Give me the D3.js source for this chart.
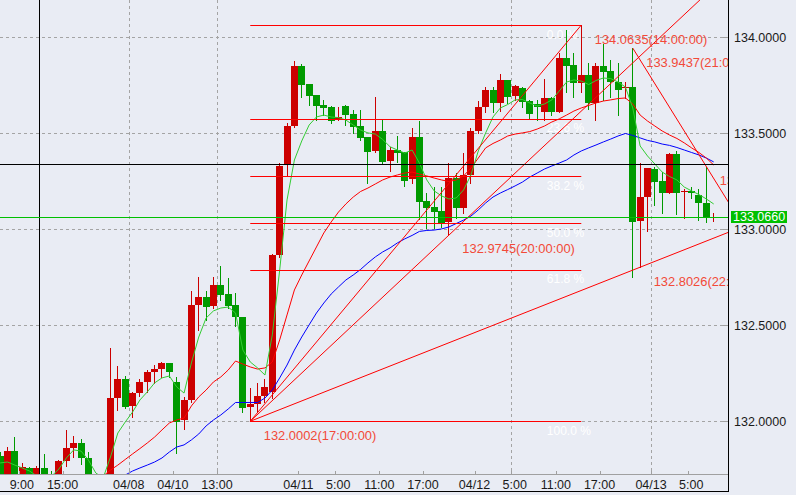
<!DOCTYPE html>
<html>
<head>
<meta charset="utf-8">
<script src="https://d3js.org/d3.v7.min.js"></script>
<style>
  body { margin: 0; background: #e9ecf4; }
  svg { display: block; font-family: "Liberation Sans", Arial, sans-serif; }
</style>
</head>
<body>
<svg id="chart"></svg>
<script>
const width = 796, height = 495;
const plotW = 728, plotH = 474;

// hourly bars, oldest first
const opens = [131.82,131.68,131.845,131.71,131.755,131.71,131.755,131.72,131.69,131.793,
  131.863,131.889,131.81,131.70,131.66,131.68,132.123,132.220,132.081,132.147,
  132.205,132.257,132.272,132.304,132.205,132.006,132.111,132.606,132.649,132.601,
  132.710,132.663,132.606,132.542,132.076,132.09,132.13,132.15,132.866,133.339,
  133.538,133.851,133.757,133.699,133.647,133.635,133.569,133.642,133.601,133.538,
  133.479,133.408,133.512,133.357,133.413,133.403,133.260,133.481,133.147,133.115,
  133.095,133.040,133.267,133.113,133.283,133.514,133.637,133.726,133.656,133.778,
  133.694,133.737,133.668,133.654,133.612,133.682,133.612,133.894,133.856,133.764,
  133.804,133.659,133.851,133.824,133.766,133.734,133.740,133.043,133.170,133.314,
  133.252,133.191,133.392,133.193,133.198,133.179,133.139,133.062];
const highs = [131.84,131.868,131.918,131.784,131.76,131.765,131.83,131.741,131.798,131.955,
  131.924,131.91,131.84,131.72,131.70,132.383,132.288,132.238,132.150,132.219,
  132.267,132.293,132.309,132.306,132.232,132.128,132.679,132.753,132.679,132.752,
  132.811,132.745,132.670,132.542,132.173,132.20,132.22,132.87,133.344,133.552,
  133.878,133.859,133.757,133.699,133.673,133.64,133.639,133.645,133.621,133.621,
  133.48,133.691,133.569,133.430,133.486,133.405,133.529,133.566,133.188,133.222,
  133.222,133.344,133.292,133.396,133.526,133.668,133.743,133.74,133.809,133.78,
  133.752,133.743,133.673,133.673,133.781,133.69,133.917,134.038,133.917,134.0635,
  133.865,133.865,133.965,133.882,133.865,133.769,133.9437,133.344,133.318,133.326,
  133.300,133.396,133.408,133.210,133.222,133.210,133.3265,133.083];
const lows = [131.66,131.65,131.66,131.69,131.70,131.69,131.67,131.64,131.66,131.769,
  131.816,131.775,131.68,131.62,131.63,131.66,132.060,132.068,132.024,132.132,
  132.154,132.198,132.232,132.229,131.834,131.960,132.099,132.476,132.528,132.589,
  132.632,132.589,132.496,132.050,132.0002,132.05,132.10,132.12,132.857,133.278,
  133.531,133.691,133.647,133.569,133.595,133.552,133.569,133.543,133.500,133.465,
  133.243,133.405,133.344,133.305,133.352,133.227,133.243,133.052,133.005,133.008,
  133.014,132.9745,133.057,133.083,133.243,133.502,133.612,133.612,133.618,133.656,
  133.673,133.639,133.578,133.569,133.569,133.595,133.610,133.717,133.691,133.717,
  133.625,133.569,133.673,133.691,133.595,133.682,132.753,132.8026,132.993,133.127,
  133.087,133.19,133.078,133.057,133.161,133.048,133.040,133.043];
const closes = [131.69,131.845,131.70,131.763,131.72,131.755,131.69,131.67,131.793,131.863,
  131.889,131.807,131.70,131.66,131.68,132.121,132.220,132.076,132.147,132.205,
  132.257,132.272,132.304,132.257,131.998,132.111,132.606,132.649,132.597,132.710,
  132.658,132.602,132.542,132.071,132.090,132.13,132.18,132.866,133.330,133.538,
  133.851,133.752,133.696,133.642,133.632,133.566,133.586,133.595,133.534,133.477,
  133.404,133.512,133.352,133.413,133.399,133.253,133.481,133.144,133.113,133.092,
  133.034,133.267,133.109,133.283,133.514,133.637,133.726,133.656,133.778,133.691,
  133.746,133.665,133.601,133.639,133.682,133.612,133.894,133.852,133.760,133.804,
  133.656,133.852,133.821,133.766,133.726,133.741,133.040,133.170,133.318,133.248,
  133.188,133.392,133.188,133.200,133.191,133.135,133.062,133.066];

// moving averages as drawn (green fast, red middle, blue slow)
const maFast = [131.783,131.788,131.772,131.757,131.741,131.715,131.705,131.715,131.752,131.809,
  131.851,131.845,131.798,131.731,131.705,131.814,131.939,131.996,132.048,132.111,
  132.153,132.200,132.226,132.236,132.179,132.147,132.304,132.439,132.538,132.575,
  132.590,132.595,132.564,132.371,132.309,132.278,132.241,132.450,132.788,133.153,
  133.361,133.460,133.543,133.585,133.595,133.585,133.582,133.569,133.543,133.517,
  133.502,133.496,133.468,133.430,133.413,133.397,133.413,133.345,133.257,133.200,
  133.174,133.158,133.163,133.205,133.283,133.408,133.502,133.585,133.632,133.650,
  133.674,133.676,133.658,133.642,133.653,133.674,133.720,133.767,133.778,133.772,
  133.754,133.775,133.788,133.785,133.767,133.741,133.632,133.434,133.382,133.340,
  133.298,133.275,133.257,133.220,133.200,133.181,133.158,133.132];
const maMidStart = 14;
const maMid = [131.715,131.746,131.772,131.801,131.830,131.858,
  131.887,131.918,131.955,131.991,132.007,132.017,132.080,132.127,132.163,132.205,
  132.231,132.267,132.314,132.298,132.283,132.272,132.278,132.309,132.424,132.554,
  132.684,132.762,132.835,132.908,132.981,133.038,133.090,133.132,133.168,133.197,
  133.215,133.236,133.257,133.272,133.283,133.293,133.298,133.288,133.278,133.267,
  133.257,133.249,133.257,133.278,133.319,133.371,133.424,133.447,133.465,133.486,
  133.496,133.502,133.509,133.522,133.538,133.559,133.575,133.595,133.616,133.632,
  133.645,133.658,133.668,133.674,133.681,133.684,133.653,133.595,133.564,133.538,
  133.512,133.491,133.473,133.450,133.424,133.400,133.371,133.335];
const maSlowStart = 17;
const maSlow = [131.720,131.741,131.757,
  131.772,131.788,131.809,131.840,131.866,131.877,131.903,131.934,131.976,132.007,
  132.033,132.064,132.098,132.098,132.098,132.098,132.121,132.163,132.226,132.293,
  132.371,132.439,132.502,132.564,132.616,132.663,132.700,132.736,132.762,132.791,
  132.825,132.856,132.882,132.903,132.929,132.950,132.968,132.989,132.994,132.996,
  133.002,133.012,133.030,133.048,133.069,133.101,133.137,133.168,133.189,133.207,
  133.226,133.246,133.272,133.293,133.314,133.330,133.345,133.361,133.387,133.408,
  133.424,133.439,133.455,133.470,133.486,133.499,133.489,133.476,133.463,133.455,
  133.444,133.437,133.426,133.413,133.400,133.387,133.371,133.351];

const priceTicks = [132.0, 132.5, 133.0, 133.5, 134.0];
const timeLabels = ["9:00","15:00","04/08","04/10","13:00","04/11","5:00","11:00","17:00","04/12","5:00","11:00","17:00","04/13","5:00"];
const timeBars = [3, 9, 18, 24, 30, 41, 46, 52, 58, 65, 70, 76, 82, 89, 94];
const gridBars = [18, 30, 70, 89];

// fibonacci retracement from the 132.0002 low to the 134.0635 high
const fibLevels = [0, 23.6, 38.2, 50, 61.8, 100];
const fibLow = {bar: 34, price: 132.0002};
const fibHigh = {bar: 79, price: 134.0635};

// trend line rays: [bar1, price1, bar2, price2]
const rays = [
  [34, 132.0002, 86, 133.867],
  [34, 132.0002, 87, 132.8026],
  [86, 133.9437, 96, 133.3265]
];

const pointBars = [34, 61, 87, 79, 86, 96];
const pointPrices = [132.0002, 132.9745, 132.8026, 134.0635, 133.9437, 133.3265];
const pointTimes = ["17:00:00", "20:00:00", "22:00:00", "14:00:00", "21:00:00", "07:00:00"];

const lastPrice = 133.066;
const crossBar = 5.22, crossPrice = 133.339;

const svg = d3.select("#chart").attr("width", width).attr("height", height);

const x = d3.scaleLinear().domain([0, 97]).range([0.14, 713.7]);
const y = d3.scaleLinear().domain([132, 134]).range([421.3, 37.3]);

svg.append("defs").append("clipPath").attr("id", "plot")
  .append("rect").attr("width", plotW).attr("height", plotH);

const plot = svg.append("g").attr("clip-path", "url(#plot)");

// grid
plot.selectAll("line.hgrid").data(priceTicks).enter().append("line")
  .attr("x1", 0).attr("x2", plotW)
  .attr("y1", d => Math.round(y(d)) + 0.5).attr("y2", d => Math.round(y(d)) + 0.5)
  .attr("stroke", "#a4a4a4").attr("stroke-dasharray", "3,3");
plot.selectAll("line.vgrid").data(gridBars).enter().append("line")
  .attr("x1", d => Math.round(x(d - 0.5)) + 0.5).attr("x2", d => Math.round(x(d - 0.5)) + 0.5)
  .attr("y1", 0).attr("y2", plotH)
  .attr("stroke", "#a4a4a4").attr("stroke-dasharray", "3,3");

// fib level labels (under the bars)
const fibPrice = lv => fibHigh.price - (fibHigh.price - fibLow.price) * lv / 100;
plot.selectAll("text.fib").data(fibLevels).enter().append("text")
  .attr("x", x(fibHigh.bar) - 34.5)
  .attr("y", d => y(fibPrice(d)) + 13.5)
  .attr("fill", "#ffffff").attr("font-size", 12)
  .text(d => d.toFixed(1) + " %");

// candles
const bars = d3.range(opens.length);
const up = i => closes[i] >= opens[i];
const col = i => up(i) ? "#cc0000" : "#009a00";
plot.selectAll("line.wick").data(bars).enter().append("line")
  .attr("x1", i => Math.round(x(i) - 3.5) + 3.5).attr("x2", i => Math.round(x(i) - 3.5) + 3.5)
  .attr("y1", i => Math.round(y(highs[i]))).attr("y2", i => Math.round(y(lows[i])) + 1)
  .attr("stroke", col);
plot.selectAll("rect.body").data(bars).enter().append("rect")
  .attr("x", i => Math.round(x(i) - 3.5))
  .attr("width", 7)
  .attr("y", i => Math.round(y(Math.max(opens[i], closes[i]))))
  .attr("height", i => Math.max(1, Math.round(y(Math.min(opens[i], closes[i]))) - Math.round(y(Math.max(opens[i], closes[i])))))
  .attr("fill", col);

// moving averages
const maLine = start => d3.line().x((d, i) => x(i + start)).y(d => y(d));
plot.append("path").attr("d", maLine(maSlowStart)(maSlow)).attr("fill", "none").attr("stroke", "#0000ff");
plot.append("path").attr("d", maLine(maMidStart)(maMid)).attr("fill", "none").attr("stroke", "#ff0000");
plot.append("path").attr("d", maLine(0)(maFast)).attr("fill", "none").attr("stroke", "#33cc33");

// fibonacci lines
plot.selectAll("line.fib").data(fibLevels).enter().append("line")
  .attr("x1", x(fibLow.bar)).attr("x2", x(fibHigh.bar))
  .attr("y1", d => Math.round(y(fibPrice(d))) + 0.5).attr("y2", d => Math.round(y(fibPrice(d))) + 0.5)
  .attr("stroke", "#ff0000");
plot.append("line")
  .attr("x1", x(fibLow.bar)).attr("y1", y(fibLow.price))
  .attr("x2", x(fibHigh.bar)).attr("y2", y(fibHigh.price))
  .attr("stroke", "#ff0000");

// rays
rays.forEach(r => {
  const x1 = x(r[0]), y1 = y(r[1]), x2 = x(r[2]), y2 = y(r[3]);
  const k = (y2 - y1) / (x2 - x1);
  const xe = 1200;
  plot.append("line").attr("x1", x1).attr("y1", y1)
    .attr("x2", xe).attr("y2", y1 + k * (xe - x1))
    .attr("stroke", "#ff0000");
});

// crosshair
plot.append("line").attr("x1", 0).attr("x2", plotW)
  .attr("y1", Math.round(y(crossPrice)) + 0.5).attr("y2", Math.round(y(crossPrice)) + 0.5)
  .attr("stroke", "#000000");
plot.append("line").attr("y1", 0).attr("y2", plotH)
  .attr("x1", Math.round(x(crossBar)) + 0.5).attr("x2", Math.round(x(crossBar)) + 0.5)
  .attr("stroke", "#000000");

// bid line
plot.append("line").attr("x1", 0).attr("x2", plotW)
  .attr("y1", Math.round(y(lastPrice)) + 0.5).attr("y2", Math.round(y(lastPrice)) + 0.5)
  .attr("stroke", "#00c000");

// high / low labels
plot.selectAll("text.pt").data(pointBars).enter().append("text")
  .attr("x", (d, i) => x(d) + 13.5)
  .attr("y", (d, i) => y(pointPrices[i]) + 18.5)
  .attr("fill", "#f24a38").attr("font-size", 12.9)
  .text((d, i) => pointPrices[i].toFixed(4) + "(" + pointTimes[i] + ")");

// frame
svg.append("line").attr("x1", 0).attr("x2", plotW).attr("y1", plotH + 0.5).attr("y2", plotH + 0.5).attr("stroke", "#a0a0a0");
svg.append("line").attr("x1", 0).attr("x2", plotW + 1).attr("y1", 491.5).attr("y2", 491.5).attr("stroke", "#000000");
svg.append("line").attr("x1", plotW + 0.5).attr("x2", plotW + 0.5).attr("y1", 0).attr("y2", 492).attr("stroke", "#000000");

// price axis
svg.selectAll("line.ptick").data(priceTicks).enter().append("line")
  .attr("x1", plotW - 5).attr("x2", plotW - 1)
  .attr("y1", d => Math.round(y(d)) + 0.5).attr("y2", d => Math.round(y(d)) + 0.5)
  .attr("stroke", "#a0a0a0");
svg.selectAll("text.ptick").data(priceTicks).enter().append("text")
  .attr("x", 734).attr("y", d => y(d) + 4.6)
  .attr("font-size", 12.5).attr("fill", "#1a1a1a")
  .text(d3.format(".4f"));

// last price tag
svg.append("rect").attr("x", 731).attr("y", Math.round(y(lastPrice)) - 6)
  .attr("width", 56).attr("height", 12).attr("fill", "#00c000");
svg.append("text").attr("x", 733).attr("y", y(lastPrice) + 4.6)
  .attr("font-size", 12.5).attr("fill", "#ffffff")
  .text(lastPrice.toFixed(4));

// time axis
svg.selectAll("line.ttick").data(timeBars).enter().append("line")
  .attr("x1", d => Math.round(x(d - 0.5)) + 0.5).attr("x2", d => Math.round(x(d - 0.5)) + 0.5)
  .attr("y1", plotH - 3).attr("y2", plotH)
  .attr("stroke", "#a0a0a0");
svg.selectAll("text.ttick").data(timeBars).enter().append("text")
  .attr("x", d => x(d - 0.5) + 15.5).attr("y", 489)
  .attr("text-anchor", "end")
  .attr("font-size", 12.5).attr("fill", "#1a1a1a")
  .text((d, i) => timeLabels[i]);
</script>
</body>
</html>
